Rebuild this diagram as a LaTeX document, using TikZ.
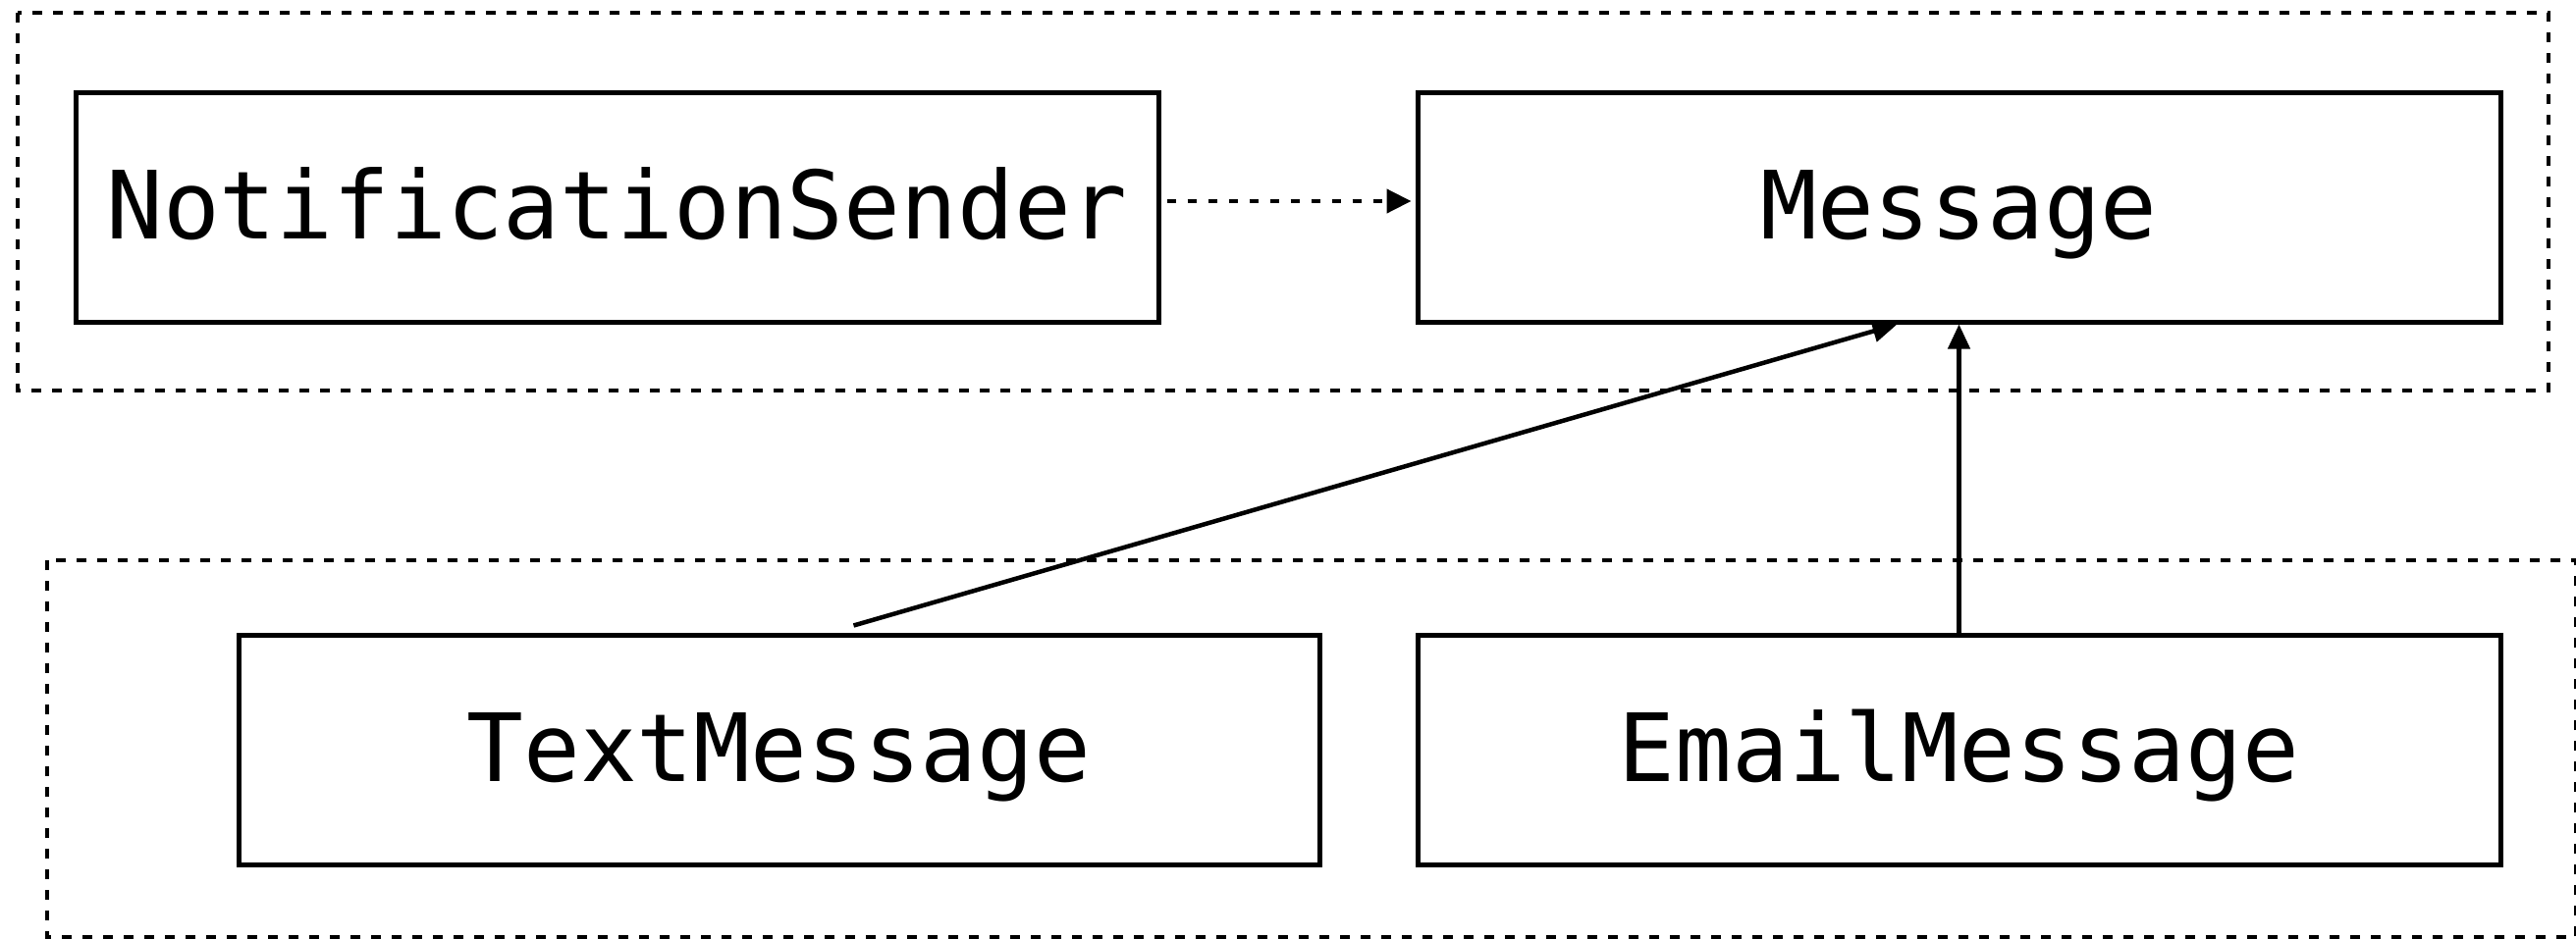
\documentclass[tikz,border=0pt]{standalone}
\usepackage{fontspec}
\newfontfamily\codefont{DejaVu Sans Mono}
\usetikzlibrary{arrows.meta}
\tikzset{
  classbox/.style={draw, line width=5pt, minimum width=1103pt, minimum height=234pt,
    inner sep=0pt, font=\codefont\fontsize{96}{96}\selectfont, text height=64pt, text depth=0pt},
  group/.style={draw, line width=4.5pt, dash pattern=on 10pt off 11pt},
  dep/.style={line width=4.5pt, dash pattern=on 9pt off 12pt, -{Triangle[length=25pt,width=24pt]}},
  assoc/.style={line width=4.5pt, -{Triangle[length=25pt,width=22pt]}},
}
\begin{document}
\begin{tikzpicture}[x=1pt, y=-1pt]
\useasboundingbox (0,0) rectangle (2624,956);
% package frames
\draw[group] (18,13) rectangle (2596,398);
\draw[group] (48,571) rectangle (2624,955);
% classes
\node[classbox] (ns)  at (628.5,211) {NotificationSender};
\node[classbox] (msg) at (1995.5,211) {Message};
\node[classbox, minimum width=1101pt] (tm) at (793.5,764) {TextMessage};
\node[classbox] (em)  at (1995.5,764) {EmailMessage};
% relations
\draw[dep] ([xshift=6pt, yshift=6pt]ns.east) -- ([xshift=-4pt, yshift=6pt]msg.west);
\draw[assoc] ([xshift=76pt, yshift=7pt]tm.north) -- ([xshift=-63pt]msg.south);
\draw[assoc] (em.north) -- (msg.south);
\end{tikzpicture}
\end{document}
